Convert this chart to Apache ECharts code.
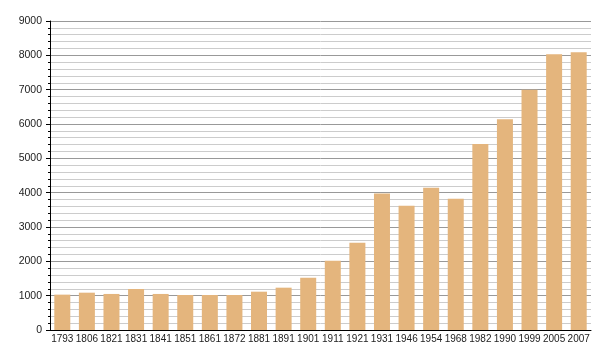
<!DOCTYPE html>
<html><head><meta charset="utf-8">
<script src="https://cdn.jsdelivr.net/npm/echarts@6/dist/echarts.min.js"></script>
<style>html,body{margin:0;padding:0;background:#fff}#c{width:600px;height:360px}</style>
</head><body><div id="c"></div>
<script>
const years = ['1793','1806','1821','1831','1841','1851','1861','1872','1881','1891','1901','1911','1921','1931','1946','1954','1968','1982','1990','1999','2005','2007'];
const population = [1030,1087,1050,1194,1050,1020,1020,1020,1116,1233,1524,2019,2544,3975,3622,4146,3826,5418,6140,7000,8029,8087];
const yTicks = {min: 0, max: 9000, interval: 1000};

const chart = echarts.init(document.getElementById('c'), null, {renderer: 'canvas'});
chart.setOption({
  animation: false,
  grid: {left: 50, right: 9, top: 21, bottom: 30, containLabel: false},
  xAxis: {
    type: 'category', data: years,
    axisLine: {show: true, lineStyle: {color: '#000', width: 1}},
    axisTick: {show: false},
    axisLabel: {interval: 0, color: '#222', fontFamily: 'Liberation Sans, Arial, sans-serif', fontSize: 10, margin: 4},
    splitLine: {show: false}
  },
  yAxis: {
    type: 'value', min: yTicks.min, max: yTicks.max, interval: yTicks.interval,
    axisLine: {show: true, lineStyle: {color: '#000', width: 1}},
    axisTick: {show: true, length: 4, lineStyle: {color: '#000'}},
    minorTick: {show: true, splitNumber: 5, length: 2, lineStyle: {color: '#000'}},
    axisLabel: {color: '#222', fontFamily: 'Liberation Sans, Arial, sans-serif', fontSize: 10.5, margin: 8, formatter: v => String(v)},
    splitLine: {show: true, lineStyle: {color: '#999', width: 1}},
    minorSplitLine: {show: true, lineStyle: {color: '#ccc', width: 1}}
  },
  series: [{
    type: 'bar', data: population, barWidth: 16,
    itemStyle: {color: '#e4b57d'}
  }]
});
</script></body></html>
